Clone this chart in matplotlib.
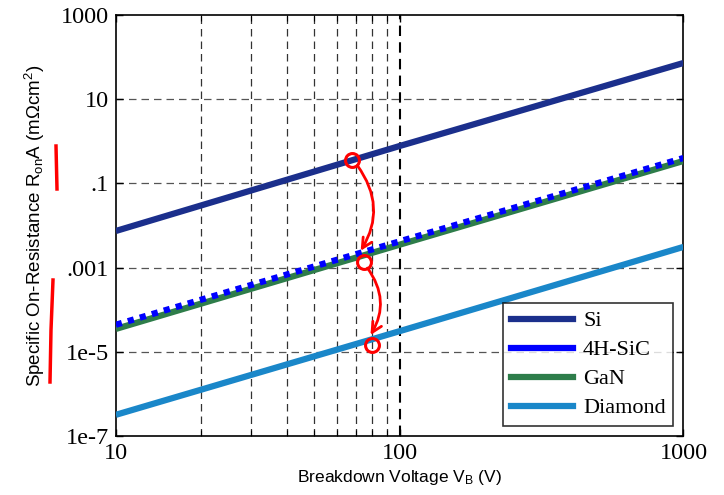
import matplotlib
matplotlib.use('Agg')
import matplotlib.pyplot as plt
from matplotlib.lines import Line2D
import numpy as np

plt.rcParams['mathtext.fontset'] = 'custom'
plt.rcParams['mathtext.rm'] = 'Liberation Sans'
plt.rcParams['mathtext.it'] = 'Liberation Sans:italic'

# Breakdown voltage (V) and specific on-resistance (mOhm cm^2)
voltage = [10, 100, 1000]
ron_si = [7.4e-3, 0.77, 72]
ron_sic = [4.4e-5, 4.2e-3, 0.40]
ron_gan = [3.5e-5, 3.5e-3, 0.34]
ron_diamond = [3.2e-7, 3.1e-5, 3.1e-3]

labels = ['Si', '4H-SiC', 'GaN', 'Diamond']
colors = ['#1b2f8c', '#0000ff', '#2e7d4a', '#1a87c9']

y_ticks = [1e-7, 1e-5, 1e-3, 1e-1, 10, 1000]
y_ticklabels = ['1e-7', '1e-5', '.001', '.1', '10', '1000']
x_ticks = [10, 100, 1000]
x_minor = [20, 30, 40, 50, 60, 70, 80, 90]

# hand-drawn red marks (data coords)
marks = [(68, 0.36), (75, 1.35e-3), (80, 1.45e-5)]

fig = plt.figure(figsize=(7.24, 4.95), dpi=100)
ax = fig.add_axes([0.160, 0.119, 0.784, 0.851])

ax.set_xscale('log')
ax.set_yscale('log')
ax.set_xlim(10, 1000)
ax.set_ylim(1e-7, 1000)

# grid
for yv in y_ticks[1:-1]:
    ax.axhline(yv, color='#555555', ls=(0, (6, 4)), lw=0.9, zorder=1)
for xv in x_minor:
    ax.axvline(xv, color='#333333', ls=(0, (6, 4)), lw=0.9, zorder=1)
ax.axvline(100, color='black', ls=(0, (5, 3)), lw=1.5, zorder=1)

ax.plot(voltage, ron_si, color=colors[0], lw=4.5, solid_capstyle='butt', zorder=3)
ax.plot(voltage, ron_gan, color=colors[2], lw=4.5, solid_capstyle='butt', zorder=3)
ax.plot(voltage, ron_sic, color=colors[1], lw=4.5, ls=(0, (1.0, 1.0)), zorder=4)
ax.plot(voltage, ron_diamond, color=colors[3], lw=4.5, solid_capstyle='butt', zorder=3)

ax.set_yticks(y_ticks)
ax.set_yticklabels(y_ticklabels)
ax.yaxis.set_minor_locator(matplotlib.ticker.NullLocator())
ax.set_xticks(x_ticks)
ax.set_xticklabels(['10', '100', '1000'])
ax.set_xticks(x_minor, minor=True)
ax.xaxis.set_minor_formatter(matplotlib.ticker.NullFormatter())
ax.tick_params(which='both', direction='in', top=True, right=True, labelsize=17.5)
ax.tick_params(which='major', length=5, width=1)
ax.tick_params(which='minor', length=4, width=0.8)
for lab in ax.get_xticklabels() + ax.get_yticklabels():
    lab.set_fontfamily('Liberation Serif')
ax.tick_params(axis='y', pad=5)
ax.tick_params(axis='x', pad=5)
for sp in ax.spines.values():
    sp.set_linewidth(1.2)

ax.set_xlabel(r'Breakdown Voltage V$_{\mathrm{B}}$ (V)', fontsize=12.5,
              family='Liberation Sans', labelpad=3)
ax.set_ylabel(r'Specific On-Resistance R$_{\mathrm{on}}$A (m$\Omega$cm$^{\mathrm{2}}$)',
              fontsize=13.5, family='Liberation Sans', labelpad=10)

handles = [Line2D([], [], color=c, lw=4.5) for c in colors]
leg = ax.legend(handles, labels, loc='lower right', handlelength=2.8,
                prop={'family': 'Liberation Serif', 'size': 16},
                frameon=True, fancybox=False, borderaxespad=0.45,
                labelspacing=0.38, handletextpad=0.45, borderpad=0.35)
leg.get_frame().set_edgecolor('black')
leg.get_frame().set_linewidth(1.2)
leg.set_zorder(5)

# red hand annotations
for xv, yv in marks:
    ax.plot(xv, yv, 'o', ms=10, mfc='none', mec='red', mew=2.2, zorder=6)
ax.annotate('', xy=(72, 2.2e-3), xytext=(70, 0.3),
            arrowprops=dict(arrowstyle='->', color='red', lw=2,
                            connectionstyle='arc3,rad=-0.35', mutation_scale=18), zorder=6)
ax.annotate('', xy=(78, 2.2e-5), xytext=(76, 1.1e-3),
            arrowprops=dict(arrowstyle='->', color='red', lw=2,
                            connectionstyle='arc3,rad=-0.35', mutation_scale=18), zorder=6)
fig.add_artist(Line2D([56 / 724, 57 / 724], [1 - 146 / 495, 1 - 189 / 495],
                      color='red', lw=2.5, transform=fig.transFigure))
fig.add_artist(Line2D([53 / 724, 51 / 724, 50 / 724], [1 - 280 / 495, 1 - 330 / 495, 1 - 382 / 495],
                      color='red', lw=2.5, transform=fig.transFigure))

fig.savefig('out.png', dpi=100)
